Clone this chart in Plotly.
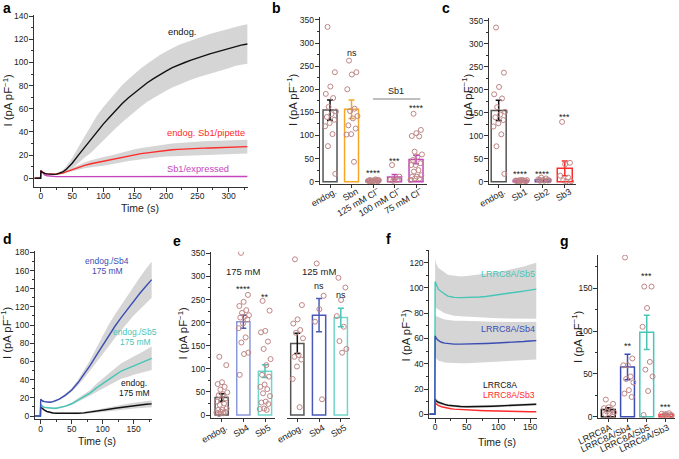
import plotly.graph_objects as go

W, H = 679, 459
FONT = "Arial, 'Liberation Sans', Helvetica, sans-serif"

# ---------------- Panel a: time courses ----------------
t_a = [-10, -0.5, 0, 3, 6, 10, 15, 20, 25, 30, 35, 40, 50, 60, 70, 80, 90, 100, 110, 120,
       130, 140, 150, 160, 170, 180, 190, 200, 210, 220, 230, 240, 250, 260, 270, 280, 290,
       300, 310, 320, 330]
a_endog = [0, 0, 6, 5, 4.3, 3.8, 3.5, 3.4, 3.6, 4.3, 5.5, 7.5, 13, 20, 27, 34, 41, 47, 53, 59,
           64.5, 69.5, 74, 78.5, 82.5, 86, 89.5, 92.5, 95.5, 98, 100, 102, 104, 106, 107.5, 109,
           110.5, 112, 114, 115, 116]
a_endog_sem = [0, 0, 0.5, 0.5, 0.5, 0.5, 0.5, 0.5, 0.7, 1, 1.5, 2.5, 4.5, 7, 9, 12, 13.5, 14.5,
               15, 15.5, 16, 16, 16.5, 16.5, 16.5, 17, 17, 17, 17, 17, 17, 17, 17, 17, 17, 17, 17,
               17, 17, 17, 17]
a_pipette = [0, 0, 6.5, 5, 4.2, 3.8, 3.5, 3.5, 3.7, 4, 4.5, 5.5, 7.5, 9.5, 11.2, 12.6, 13.7, 14.6,
             15.6, 16.8, 18.2, 19.5, 20.4, 21.3, 22, 22.8, 23.5, 24.1, 24.6, 25, 25.4, 25.7, 26,
             26.1, 26.2, 26.4, 26.6, 26.8, 27, 27.2, 27.4]
a_pipette_sem = [0, 0, 0.5, 0.5, 0.5, 0.5, 0.5, 0.5, 0.6, 0.7, 0.8, 1.0, 1.5, 2, 2.5, 3, 3.5, 3.7,
                 3.9, 4.1, 4.3, 4.5, 4.6, 4.8, 5, 5.1, 5.2, 5.3, 5.4, 5.5, 5.6, 5.7, 5.8, 5.9, 6,
                 6, 6, 6, 6, 6, 6]
a_expressed = [0, 0, 7, 4.5, 3, 2.2, 1.8, 1.6, 1.5, 1.5, 1.5, 1.5, 1.5, 1.5, 1.5, 1.5, 1.5, 1.5,
               1.5, 1.5, 1.5, 1.5, 1.5, 1.5, 1.5, 1.5, 1.5, 1.6, 1.6, 1.6, 1.6, 1.6, 1.6, 1.6,
               1.6, 1.6, 1.6, 1.6, 1.6, 1.6, 1.6]

# ---------------- Panel b ----------------
b_cats = ["endog.", "Sbn", "125 mM Cl<sup>−</sup>", "100 mM Cl<sup>−</sup>", "75 mM Cl<sup>−</sup>"]
b_mean = [155, 157, 2.5, 10, 48]
b_sem = [22, 20, 0.6, 5.5, 9]
b_dots = [
    [335, 237, 206, 190, 181, 162, 152, 146, 140, 134, 127, 120, 103, 77, 17],
    [262, 237, 232, 200, 158, 153, 142, 137, 122, 115, 103, 102, 43],
    [0.5, 1, 1.5, 2, 2, 2.5, 3, 3, 3.5, 4, 1, 2, 5, 1.5, 3],
    [36, 11, 7, 4, 4, 2],
    [147, 112, 105, 99, 98, 65, 59, 54, 47, 40, 36, 36, 25, 22, 14, 11, 11, 7, 7, 4],
]
b_stars = ["", "ns", "****", "***", "****"]
b_star_y = [0, 280, 20, 48, 162]

# ---------------- Panel c ----------------
c_cats = ["endog.", "Sb1", "Sb2", "Sb3"]
c_mean = [155, 2.5, 4, 29]
c_sem = [22, 0.6, 1, 16]
c_dots = [
    [335, 237, 206, 190, 181, 162, 152, 146, 140, 134, 127, 120, 103, 77, 17],
    [0.5, 1, 1.5, 2, 2.5, 3, 3.5, 4, 2, 1.5, 3, 2.5],
    [2, 3, 4, 5, 7, 9, 3, 2, 4, 3],
    [130, 41, 38, 13, 9, 3, 1, 0.5],
]
c_stars = ["", "****", "****", "***"]
c_star_y = [0, 18, 18, 143]

# ---------------- Panel d ----------------
t_d = [-9, -0.5, 0, 3, 6, 10, 15, 20, 25, 30, 40, 50, 60, 70, 80, 90, 100, 110, 120, 130, 140,
       150, 160, 170, 179]
d_sb4 = [0, 0, 18.5, 16.5, 15.8, 15.3, 15.2, 15.8, 17, 18.5, 23, 28.6, 36.5, 46, 56, 67, 78, 89,
         99, 108.5, 117.5, 126.5, 135, 143, 150]
d_sb4_sem = [0, 0, 1, 1, 1, 1, 1, 1, 1, 1, 1.5, 2, 3, 4.5, 6, 8, 10, 12, 13, 14, 15, 16, 17.5,
             19, 20]
d_sb5 = [0, 0, 13, 10.5, 9.5, 9, 8.6, 8.5, 8.5, 9, 10.8, 13.5, 17.5, 21.5, 25.5, 31, 36, 40.5,
         45, 49.5, 52.5, 55.5, 58, 61, 63.5]
d_sb5_sem = [0, 0, 1, 1, 1, 1, 1, 1, 1, 1, 1, 1.5, 2, 2.5, 3, 4.5, 5.5, 6.5, 7.5, 8.5, 9.5, 10,
             11, 12, 13]
d_endog = [0, 0, 10, 8, 6.5, 5, 4, 3.3, 3, 2.9, 2.8, 2.8, 3, 3.5, 4.3, 5, 6.2, 7.4, 8.5, 9.5,
           10.5, 11.5, 12.3, 13, 13.4]
d_endog_sem = [0, 0, 0.8, 0.8, 0.8, 0.8, 0.8, 0.8, 0.8, 0.8, 0.8, 0.8, 1, 1.2, 1.5, 1.8, 2, 2.3,
               2.6, 2.8, 3, 3.2, 3.4, 3.6, 3.7]

# ---------------- Panel e ----------------
e_cats = ["endog.", "Sb4", "Sb5"]
e175_mean = [38, 202, 95]
e175_sem = [8, 14, 14]
e175_dots = [
    [126, 108, 71, 67, 61, 55, 49, 45, 43, 36, 32, 29, 25, 22, 14, 11, 11, 7, 7, 5, 4, 2],
    [351, 260, 245, 236, 227, 221, 216, 213, 211, 207, 198, 188, 168, 157, 135, 132, 87],
    [247, 226, 182, 179, 159, 143, 121, 108, 87, 83, 66, 61, 56, 47, 41, 29, 27, 24, 14, 13, 11],
]
e175_stars = ["", "****", "**"]
e175_star_y = [0, 276, 258]
e125_mean = [155, 216, 211]
e125_sem = [22, 36, 20]
e125_dots = [
    [337, 238, 207, 198, 184, 178, 166, 130, 126, 120, 105, 78, 17],
    [328, 258, 229, 202, 34],
    [297, 276, 249, 214, 191, 160, 143, 135],
]
e125_stars = ["", "ns", "ns"]
e125_star_y = [0, 281, 262]

# ---------------- Panel f ----------------
t_f = [-9, -0.5, 0, 2, 5, 10, 15, 20, 25, 30, 40, 50, 60, 70, 80, 90, 100, 110, 120, 130, 140,
       150, 160]
f_sb5 = [0, 0, 105, 102, 99, 97, 95, 93.5, 93, 92.5, 92.3, 92.3, 92.5, 92.8, 93.2, 93.8, 94.5,
         95.3, 96, 96.8, 97.5, 98.3, 99]
f_sb5_hi = [0, 0, 123, 119, 116, 114, 112, 110.5, 110, 109.5, 109, 109.5, 110, 110.5, 111, 111.5,
            112.5, 113.5, 114.5, 115.5, 117, 118.5, 120]
f_sb5_lo = [0, 0, 86, 84, 83, 81.5, 80, 79, 78.5, 78, 77.5, 77, 76.8, 76.6, 76.4, 76.2, 76, 75.9,
            75.8, 75.7, 75.6, 75.5, 75.5]
f_sb4 = [0, 0, 62, 60, 58.5, 57, 56.3, 56, 55.7, 55.5, 55.5, 55.5, 55.6, 55.8, 56, 56.2, 56.4,
         56.7, 57, 57.3, 57.6, 58, 58.3]
f_sb4_hi = [0, 0, 78, 77.5, 77, 76, 75, 74.5, 74, 74, 74, 74, 73.8, 73.6, 73.4, 73.2, 73, 73, 73,
            73, 73, 73, 73.2]
f_sb4_lo = [0, 0, 46, 44, 42.5, 41.5, 41, 40.7, 40.5, 40.3, 40.3, 40.3, 40.5, 40.7, 41, 41.2,
            41.4, 41.7, 42, 42.3, 42.6, 43, 43.3]
f_lrrc = [0, 0, 12, 10.5, 9.5, 8.5, 7.8, 7.2, 6.8, 6.5, 6.2, 6, 6, 6.1, 6.2, 6.4, 6.6, 6.8, 7, 7.2,
          7.4, 7.7, 8]
f_lrrc_sem = [0, 0, 1.5, 1.5, 1.3, 1.2, 1, 1, 1, 1, 1, 1, 1, 1, 1, 1, 1, 1, 1, 1, 1, 1, 1]
f_sb3 = [0, 0, 9, 8, 7, 6, 5.3, 4.8, 4.4, 4.1, 3.7, 3.4, 3.2, 3, 2.8, 2.6, 2.5, 2.4, 2.3, 2.2,
         2.1, 2, 2]

# ---------------- Panel g ----------------
g_cats = ["LRRC8A", "LRRC8A/Sb4", "LRRC8A/Sb5", "LRRC8A/Sb3"]
g_mean = [8.5, 58, 98.5, 2.5]
g_sem = [2, 15, 20, 0.5]
g_dots = [
    [20, 15, 11, 10, 8, 6, 5, 4, 3, 2],
    [186, 68, 60, 60, 47, 44, 40, 31, 27, 23],
    [152, 152, 127, 105, 64, 55, 47, 30, 2],
    [1, 2, 3, 3.5, 4, 2.5, 1.5],
]
g_stars = ["", "**", "***", "***"]
g_star_y = [0, 84, 165, 12]

# ---------------- colours ----------------
BLACK = "#111111"
RED = "#ff2a2a"
MAGENTA = "#c445bd"
BLUE = "#3b4db3"
TEAL = "#47c6b8"
ORANGE = "#f6a623"
PURPLE = "#6b46a8"
GREY_BAND = "#d5d5d5"
DOT = "#bf8585"
AXC = "#333333"

fig = go.Figure()


def names(n):
    return ("x" if n == 1 else f"x{n}"), ("y" if n == 1 else f"y{n}")


def band_sem(t, mean, sem, n):
    xs, ys = names(n)
    tt = t[2:]
    hi = [m + s for m, s in zip(mean[2:], sem[2:])]
    lo = [m - s for m, s in zip(mean[2:], sem[2:])]
    fig.add_trace(go.Scatter(x=tt + tt[::-1], y=hi + lo[::-1], fill="toself",
                             fillcolor=GREY_BAND, line=dict(width=0), mode="lines",
                             xaxis=xs, yaxis=ys, hoverinfo="skip", showlegend=False))


def band_hilo(t, hi, lo, n):
    xs, ys = names(n)
    tt = t[2:]
    fig.add_trace(go.Scatter(x=tt + tt[::-1], y=hi[2:] + lo[2:][::-1], fill="toself",
                             fillcolor=GREY_BAND, line=dict(width=0), mode="lines",
                             xaxis=xs, yaxis=ys, hoverinfo="skip", showlegend=False))


def curve(t, v, color, n, w=1.4):
    xs, ys = names(n)
    fig.add_trace(go.Scatter(x=t, y=v, mode="lines", line=dict(color=color, width=w),
                             xaxis=xs, yaxis=ys, hoverinfo="skip", showlegend=False))


def bars(xs, ys, means, sems, colors, ecolors, dots, width, stars, star_y):
    for i, (m, s, c, ec, d) in enumerate(zip(means, sems, colors, ecolors, dots)):
        fig.add_trace(go.Bar(x=[i], y=[m], width=width,
                             marker=dict(color="rgba(0,0,0,0)", line=dict(color=c, width=1.5)),
                             error_y=dict(type="data", array=[s], color=ec, thickness=1.5,
                                          width=3),
                             xaxis=xs, yaxis=ys, showlegend=False, hoverinfo="skip"))
        jit = [((k * 0.618034 + 0.29) % 1.0 - 0.5) * width * 0.85 for k in range(len(d))]
        fig.add_trace(go.Scatter(x=[i + j for j in jit], y=d, mode="markers",
                                 marker=dict(symbol="circle-open", size=5, color=DOT,
                                             line=dict(width=1, color=DOT)),
                                 xaxis=xs, yaxis=ys, showlegend=False, hoverinfo="skip"))
        if stars[i]:
            fig.add_annotation(text=stars[i], x=i, y=star_y[i], xref=xs, yref=ys,
                               showarrow=False, yshift=-1,
                               font=dict(size=9, color="#222", family=FONT))


# ---- panel a traces ----
band_sem(t_a, a_endog, a_endog_sem, 1)
band_sem(t_a, a_pipette, a_pipette_sem, 1)
curve(t_a, a_expressed, MAGENTA, 1)
curve(t_a, a_pipette, RED, 1)
curve(t_a, a_endog, BLACK, 1)

# ---- panel b ----
bars("x2", "y2", b_mean, b_sem, ["#555555", ORANGE, MAGENTA, MAGENTA, MAGENTA],
     [BLACK, ORANGE, MAGENTA, MAGENTA, MAGENTA], b_dots, 0.65, b_stars, b_star_y)

# ---- panel c ----
bars("x3", "y3", c_mean, c_sem, ["#555555", MAGENTA, PURPLE, RED],
     [BLACK, MAGENTA, PURPLE, RED], c_dots, 0.68, c_stars, c_star_y)

# ---- panel d ----
band_sem(t_d, d_sb4, d_sb4_sem, 4)
band_sem(t_d, d_sb5, d_sb5_sem, 4)
band_sem(t_d, d_endog, d_endog_sem, 4)
curve(t_d, d_endog, BLACK, 4)
curve(t_d, d_sb5, TEAL, 4)
curve(t_d, d_sb4, BLUE, 4)

# ---- panel e ----
bars("x5", "y5", e175_mean, e175_sem, ["#555555", "#8a98dc", "#6fd6c9"],
     [BLACK, "#4c5cb8", TEAL], e175_dots, 0.61, e175_stars, e175_star_y)
bars("x6", "y5", e125_mean, e125_sem, ["#555555", "#4a58b5", "#6fd6c9"],
     [BLACK, "#4c5cb8", TEAL], e125_dots, 0.61, e125_stars, e125_star_y)

# ---- panel f ----
band_hilo(t_f, f_sb5_hi, f_sb5_lo, 7)
band_hilo(t_f, f_sb4_hi, f_sb4_lo, 7)
band_sem(t_f, f_lrrc, f_lrrc_sem, 7)
curve(t_f, f_sb3, RED, 7)
curve(t_f, f_lrrc, BLACK, 7)
curve(t_f, f_sb5, TEAL, 7)
curve(t_f, f_sb4, BLUE, 7)

# ---- panel g ----
bars("x8", "y8", g_mean, g_sem, [BLACK, BLUE, TEAL, RED], [BLACK, BLUE, TEAL, RED],
     g_dots, 0.72, g_stars, g_star_y)


# ---------------- axes ----------------
def dxp(a, b):
    return [a / W, b / W]


def dyp(top, bottom):
    return [1 - bottom / H, 1 - top / H]


BASE = dict(showline=True, linecolor=AXC, linewidth=1, ticks="outside", ticklen=4,
            tickwidth=1, tickcolor=AXC, showgrid=False, zeroline=False, mirror=False,
            automargin=False, tickfont=dict(size=8.5, color="#222", family=FONT),
            fixedrange=True)


def num_axis(domain, rng, anchor, dtick, minor, standoff=0):
    d = dict(BASE)
    d.update(domain=domain, range=rng, anchor=anchor, tick0=0, dtick=dtick,
             ticklabelstandoff=standoff,
             minor=dict(ticks="outside", ticklen=2, tickcolor=AXC, dtick=minor, tick0=0,
                        showgrid=False))
    return d


def cat_axis(domain, rng, anchor, labels, angle=-30, standoff=-5, shift=5):
    d = dict(BASE)
    d.update(domain=domain, range=rng, anchor=anchor, tickmode="array",
             tickvals=list(range(len(labels))), ticktext=labels, tickangle=angle, ticklen=3,
             ticklabelstandoff=standoff, ticklabelshift=shift,
             tickfont=dict(size=9, color="#222", family=FONT))
    return d


layout_axes = {
    "xaxis": num_axis(dxp(34, 248), [-11, 331], "y", 50, 25, -3),
    "yaxis": num_axis(dyp(15, 187), [-7.5, 141], "x", 20, 10, -1),
    "xaxis2": cat_axis(dxp(319.7, 427), [-0.48, 4.51], "y2", b_cats),
    "yaxis2": num_axis(dyp(17.3, 184), [-5, 355.8], "x2", 50, 25, -1),
    "xaxis3": cat_axis(dxp(489, 576), [-0.44, 3.51], "y3", c_cats),
    "yaxis3": num_axis(dyp(18.3, 184.3), [-5.65, 355.2], "x3", 50, 25, -1),
    "xaxis4": num_axis(dxp(35, 152), [-9.2, 179.5], "y4", 50, 25, -3),
    "yaxis4": num_axis(dyp(250.7, 419.3), [-3.6, 181.8], "x4", 20, 10, -1),
    "xaxis5": cat_axis(dxp(211, 275), [-0.494, 2.462], "y5", e_cats, -30, -3, 4),
    "yaxis5": num_axis(dyp(251.7, 418.3), [-7.1, 353.5], "x5", 50, 25, -1),
    "xaxis6": cat_axis(dxp(287, 350), [-0.474, 2.423], "y5", e_cats, -30, -3, 4),
    "xaxis7": num_axis(dxp(429.3, 536.7), [-9.2, 160.5], "y7", 50, 25, -3),
    "yaxis7": num_axis(dyp(250, 417.7), [-2.7, 130], "x7", 20, 10, -1),
    "xaxis8": cat_axis(dxp(598.3, 675), [-0.52, 3.47], "y8", g_cats, -25, -3, 2),
    "yaxis8": num_axis(dyp(255, 418.3), [-1.9, 188.9], "x8", 50, 25, -1),
}

fig.update_layout(width=W, height=H, margin=dict(l=0, r=0, t=0, b=0, autoexpand=False),
                  paper_bgcolor="white", plot_bgcolor="white", barmode="overlay",
                  showlegend=False, font=dict(family=FONT, color="#222"), **layout_axes)


def pann(text, px, py, size=10.5, angle=0, bold=False, xanchor="center", yanchor="middle",
         color="#222"):
    fig.add_annotation(text=f"<b>{text}</b>" if bold else text, x=px / W, y=1 - py / H,
                       xref="paper", yref="paper", showarrow=False, textangle=angle,
                       xanchor=xanchor, yanchor=yanchor,
                       font=dict(size=size, color=color, family=FONT))


def dann(text, x, y, xs, ys, color, size=9, xanchor="center"):
    fig.add_annotation(text=text, x=x, y=y, xref=xs, yref=ys, showarrow=False,
                       xanchor=xanchor, font=dict(size=size, color=color, family=FONT))


YT = "I (pA pF<sup>−1</sup>)"
# panel letters
for letter, px, py in [("a", 1, 7.5), ("b", 270, 7.5), ("c", 440, 8), ("d", 1, 239),
                       ("e", 171, 241), ("f", 384, 239), ("g", 558, 241)]:
    pann(letter, px, py, size=14, bold=True, xanchor="left", color="#000")

# axis titles
for px, py in [(7.5, 100), (292, 100), (467, 100), (6, 333), (182.5, 333), (405.5, 335),
               (577, 337)]:
    pann(YT, px, py, size=11.3, angle=-90)
for px, py in [(140, 208.5), (96.7, 441), (497, 441.5)]:
    pann("Time (s)", px, py, size=10.5)

# panel a labels
dann("endog.", 226, 126, "x", "y", BLACK, 9.3)
dann("endog. Sb1/pipette", 264, 39, "x", "y", RED, 9.3)
dann("Sb1/expressed", 251.6, 8, "x", "y", MAGENTA, 9.3)

# panel b bracket
fig.add_shape(type="line", x0=2.0, x1=4.2, y0=179, y1=179, xref="x2", yref="y2",
              line=dict(color="#aaaaaa", width=1.5))
dann("Sb1", 3.05, 197, "x2", "y2", "#222", 9)

# panel d labels
dann("endog./Sb4", 107, 170.5, "x4", "y4", BLUE, 8.5)
dann("175 mM", 107, 160, "x4", "y4", BLUE, 8.5)
dann("endog./Sb5", 152.5, 92, "x4", "y4", TEAL, 8.5)
dann("175 mM", 152.5, 81, "x4", "y4", TEAL, 8.5)
dann("endog.", 151, 36, "x4", "y4", BLACK, 8.5)
dann("175 mM", 151, 25, "x4", "y4", BLACK, 8.5)

# panel e group labels
dann("175 mM", 1, 310, "x5", "y5", "#222", 9.5)
dann("125 mM", 1, 310, "x6", "y5", "#222", 9.5)

# panel f labels
dann("LRRC8A/Sb5", 70, 110.8, "x7", "y7", TEAL, 9, "left")
dann("LRRC8A/Sb4", 70, 67.7, "x7", "y7", BLUE, 9, "left")
dann("LRRC8A", 73, 23.2, "x7", "y7", BLACK, 8.6, "left")
dann("LRRC8A/Sb3", 73, 15.4, "x7", "y7", RED, 8.6, "left")

fig.write_html("out.html", config={"displayModeBar": False},
               post_script="document.body.style.margin='0';document.body.style.padding='0';")
